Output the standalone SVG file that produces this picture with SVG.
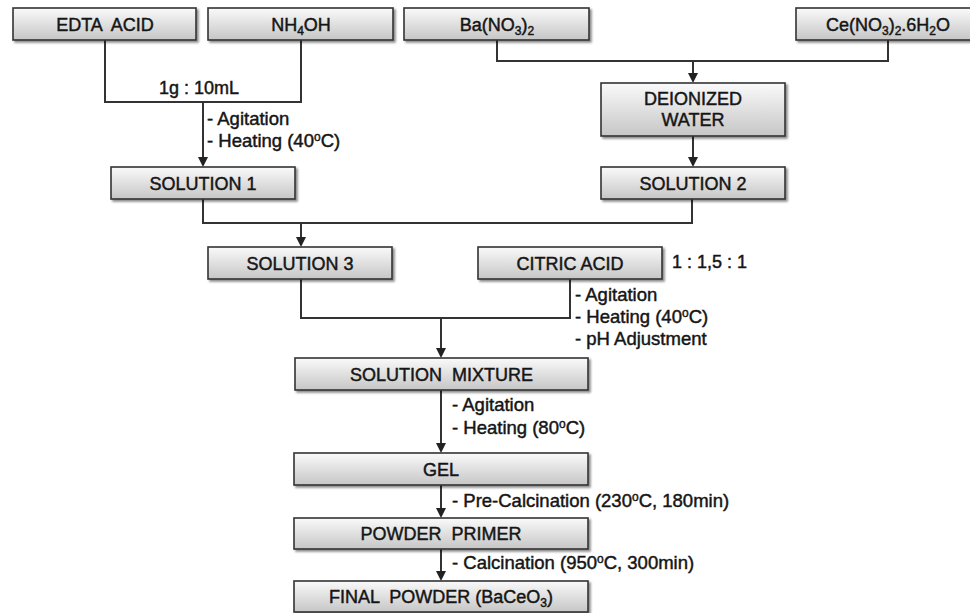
<svg xmlns="http://www.w3.org/2000/svg" width="970" height="613" viewBox="0 0 970 613">
<defs>
<linearGradient id="g" x1="0" y1="0" x2="0" y2="1">
<stop offset="0" stop-color="#fafafa"/>
<stop offset="1" stop-color="#c6c6c6"/>
</linearGradient>
<filter id="sh" x="-5%" y="-20%" width="115%" height="160%">
<feDropShadow dx="2" dy="2" stdDeviation="1.2" flood-color="#000" flood-opacity="0.45"/>
</filter>
</defs>
<style>
rect.b{fill:url(#g);stroke:#333;stroke-width:1.6;filter:url(#sh)}
text{font-family:"Liberation Sans",Arial,sans-serif;font-size:18px;fill:#151515;stroke:#151515;stroke-width:0.45}
text.c{text-anchor:middle}
.n{font-size:18.5px}
.ln{fill:none;stroke:#333;stroke-width:2}
.ah{fill:#222}
</style>
<rect width="970" height="613" fill="#fff"/>
<g id="connectors">
<polyline class="ln" points="105,40 105,102 301,102 301,40"/>
<line class="ln" x1="203" y1="102" x2="203" y2="158"/>
<path class="ah" d="M198,157 L208,157 L203,167 Z"/>
<polyline class="ln" points="497,40 497,61 888,61 888,40"/>
<line class="ln" x1="693" y1="61" x2="693" y2="74"/>
<path class="ah" d="M688,73 L698,73 L693,83 Z"/>
<line class="ln" x1="693" y1="136" x2="693" y2="158"/>
<path class="ah" d="M688,157 L698,157 L693,167 Z"/>
<polyline class="ln" points="203,199 203,223 692,223 692,199"/>
<line class="ln" x1="301" y1="223" x2="301" y2="238"/>
<path class="ah" d="M296,237 L306,237 L301,247 Z"/>
<polyline class="ln" points="301,279 301,318 570,318 570,279"/>
<line class="ln" x1="441" y1="318" x2="441" y2="349"/>
<path class="ah" d="M436,348 L446,348 L441,358 Z"/>
<line class="ln" x1="441" y1="390" x2="441" y2="444"/>
<path class="ah" d="M436,443 L446,443 L441,453 Z"/>
<line class="ln" x1="441" y1="485" x2="441" y2="509"/>
<path class="ah" d="M436,508 L446,508 L441,518 Z"/>
<line class="ln" x1="441" y1="549" x2="441" y2="572"/>
<path class="ah" d="M436,571 L446,571 L441,581 Z"/>
</g>
<g id="labels">
<text class="c" x="199" y="94">1g : 10mL</text>
<text class="n" x="207" y="125">- Agitation</text>
<text class="n" x="207" y="147">- Heating (40<tspan font-size="12" dy="-6">o</tspan><tspan dy="6">C)</tspan></text>
<text x="672" y="268">1 : 1,5 : 1</text>
<text class="n" x="575" y="301">- Agitation</text>
<text class="n" x="575" y="323">- Heating (40<tspan font-size="12" dy="-6">o</tspan><tspan dy="6">C)</tspan></text>
<text class="n" x="575" y="345">- pH Adjustment</text>
<text class="n" x="452" y="411">- Agitation</text>
<text class="n" x="452" y="434">- Heating (80<tspan font-size="12" dy="-6">o</tspan><tspan dy="6">C)</tspan></text>
<text class="n" x="452" y="507">- Pre-Calcination (230<tspan font-size="12" dy="-6">o</tspan><tspan dy="6">C, 180min)</tspan></text>
<text class="n" x="452" y="569">- Calcination (950<tspan font-size="12" dy="-6">o</tspan><tspan dy="6">C, 300min)</tspan></text>
</g>
<g id="edta"><rect class="b" x="13" y="8" width="183" height="32"/><text class="c" x="105" y="30.5" xml:space="preserve">EDTA  ACID</text></g>
<g id="nh4oh"><rect class="b" x="208" y="8" width="185" height="32"/><text class="c" x="301" y="30.5">NH<tspan font-size="12" dy="4">4</tspan><tspan dy="-4">OH</tspan></text></g>
<g id="ba"><rect class="b" x="404" y="8" width="185" height="32"/><text class="c" x="497" y="30.5">Ba(NO<tspan font-size="12" dy="4">3</tspan><tspan dy="-4">)</tspan><tspan font-size="12" dy="4">2</tspan></text></g>
<g id="ce"><rect class="b" x="796" y="8" width="184" height="32"/><text class="c" x="888" y="30.5">Ce(NO<tspan font-size="12" dy="4">3</tspan><tspan dy="-4">)</tspan><tspan font-size="12" dy="4">2</tspan><tspan dy="-4">.6H</tspan><tspan font-size="12" dy="4">2</tspan><tspan dy="-4">O</tspan></text></g>
<g id="water"><rect class="b" x="601" y="83" width="184" height="53"/><text class="c" x="693" y="105">DEIONIZED</text><text class="c" x="693" y="126">WATER</text></g>
<g id="sol1"><rect class="b" x="111" y="167" width="184" height="32"/><text class="c" x="203" y="189.5">SOLUTION 1</text></g>
<g id="sol2"><rect class="b" x="601" y="167" width="184" height="32"/><text class="c" x="693" y="189.5">SOLUTION 2</text></g>
<g id="sol3"><rect class="b" x="208" y="247" width="184" height="32"/><text class="c" x="300" y="269.5">SOLUTION 3</text></g>
<g id="citric"><rect class="b" x="478" y="247" width="184" height="32"/><text class="c" x="570" y="269.5">CITRIC ACID</text></g>
<g id="mixture"><rect class="b" x="295" y="358" width="293" height="32"/><text class="c" x="441.5" y="380.5" xml:space="preserve">SOLUTION  MIXTURE</text></g>
<g id="gel"><rect class="b" x="294" y="453" width="294" height="32"/><text class="c" x="441" y="475.5">GEL</text></g>
<g id="primer"><rect class="b" x="294" y="518" width="294" height="31"/><text class="c" x="441" y="540" xml:space="preserve">POWDER  PRIMER</text></g>
<g id="final"><rect class="b" x="294" y="581" width="294" height="31"/><text class="c" x="441" y="603" xml:space="preserve">FINAL  POWDER (BaCeO<tspan font-size="12" dy="4">3</tspan><tspan dy="-4">)</tspan></text></g>
</svg>
